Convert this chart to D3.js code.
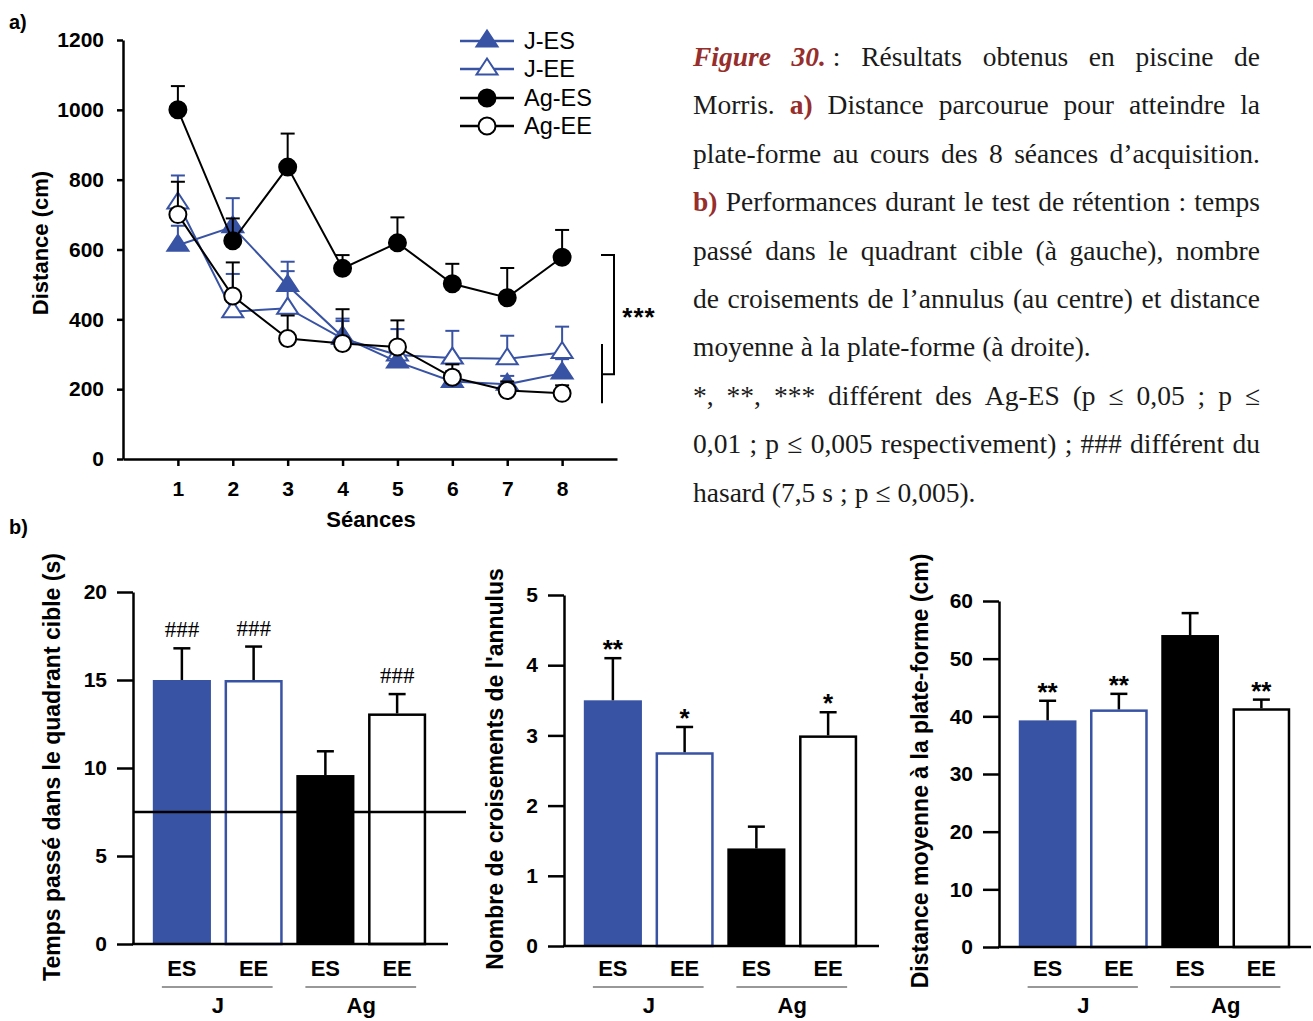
<!DOCTYPE html>
<html>
<head>
<meta charset="utf-8">
<script src="https://cdn.jsdelivr.net/npm/d3@7"></script>
<style>
  body { margin: 0; background: #fff; }
  svg text { font-family: "Liberation Sans", Arial, sans-serif; fill: #000; }
  .cap text { font-family: "Liberation Serif", "Times New Roman", serif; font-size: 27.5px; fill: #1a1a1a; }
  .cap .fig { font-weight: bold; font-style: italic; fill: #962e2c; }
  .cap .lab { font-weight: bold; fill: #962e2c; }
</style>
</head>
<body>
<svg id="chart" width="1313" height="1021"></svg>
<script>
// ---- data: a) distance over the 8 acquisition sessions (mean, SEM)
const sessions = [1, 2, 3, 4, 5, 6, 7, 8]
const jES = [612, 665, 497, 350, 278, 222, 214, 246]
const jESsem = [56, 82, 68, 45, 57, 30, 24, 40]
const jEE = [733, 422, 432, 345, 298, 289, 287, 305]
const jEEsem = [79, 108, 106, 57, 74, 78, 66, 74]
const agES = [1000, 625, 836, 546, 619, 502, 462, 578]
const agESsem = [68, 64, 96, 38, 73, 57, 85, 78]
const agEE = [700, 467, 345, 331, 321, 234, 196, 188]
const agEEsem = [94, 96, 66, 98, 76, 37, 26, 23]
const yTicksA = [0, 200, 400, 600, 800, 1000, 1200]

// ---- data: b) retention test
const groups = ['J-ES', 'J-EE', 'Ag-ES', 'Ag-EE']
const barLabels = ['ES', 'EE', 'ES', 'EE']
const ages = ['J', 'Ag']
const quadTime = [15.0, 15.0, 9.6, 13.1]
const quadSem = [1.8, 1.9, 1.35, 1.1]
const quadMarks = ['###', '###', '', '###']
const chanceLevel = 7.5
const crossings = [3.5, 2.76, 1.39, 3.0]
const crossSem = [0.6, 0.36, 0.31, 0.33]
const crossMarks = ['**', '*', '', '*']
const platDist = [39.3, 41.2, 54.1, 41.4]
const platSem = [3.4, 2.7, 3.8, 1.5]
const platMarks = ['**', '**', '', '**']

const blue = '#3953a4'
const look = {
  'J-ES': { stroke: blue, fill: blue, shape: 'tri' },
  'J-EE': { stroke: blue, fill: '#fff', shape: 'tri' },
  'Ag-ES': { stroke: '#000', fill: '#000', shape: 'circ' },
  'Ag-EE': { stroke: '#000', fill: '#fff', shape: 'circ' }
}
const svg = d3.select('#chart')
svg.append('rect').attr('width', 1313).attr('height', 1021).attr('fill', '#fff')

function styleAxis (g, size) {
  g.selectAll('path, line').attr('stroke', '#000').attr('stroke-width', 2.5)
  g.selectAll('text').attr('font-size', size).attr('font-weight', 'bold').attr('fill', '#000')
}
function marker (g, shape, cx, cy, st) {
  if (shape === 'circ') {
    g.append('circle').attr('cx', cx).attr('cy', cy).attr('r', 8.5)
      .attr('fill', st.fill).attr('stroke', st.stroke).attr('stroke-width', 2)
  } else {
    g.append('path').attr('d', 'M0,-10.5L10.5,5.5L-10.5,5.5Z')
      .attr('transform', `translate(${cx},${cy})`)
      .attr('fill', st.fill).attr('stroke', st.stroke).attr('stroke-width', 2)
  }
}

// ================= a) line chart
const x = d3.scaleLinear().domain([0, 9]).range([123, 617])
const y = d3.scaleLinear().domain([0, 1200]).range([459, 40])
const ga = svg.append('g')
ga.append('g').attr('transform', 'translate(0,459)')
  .call(d3.axisBottom(x).tickValues(sessions).tickFormat(d3.format('d')).tickSize(7).tickSizeOuter(0).tickPadding(15))
  .call(g => styleAxis(g, 21))
ga.append('g').attr('transform', 'translate(123,0)')
  .call(d3.axisLeft(y).tickValues(yTicksA).tickFormat(d3.format('d')).tickSize(6).tickSizeOuter(0).tickPadding(13))
  .call(g => styleAxis(g, 21))
ga.append('text').attr('x', 371).attr('y', 527).attr('text-anchor', 'middle')
  .attr('font-size', 22).attr('font-weight', 'bold').text('Séances')
ga.append('text').attr('transform', 'translate(48,243) rotate(-90)').attr('text-anchor', 'middle')
  .attr('font-size', 22).attr('font-weight', 'bold').text('Distance (cm)')

const series = { 'J-EE': [jEE, jEEsem], 'J-ES': [jES, jESsem], 'Ag-EE': [agEE, agEEsem], 'Ag-ES': [agES, agESsem] }
const line = d3.line().x(d => x(d.s)).y(d => y(d.v))
Object.keys(series).forEach(name => {
  const st = look[name]
  const pts = sessions.map((s, i) => ({ s, v: series[name][0][i], e: series[name][1][i] }))
  const g = ga.append('g')
  pts.forEach(p => {
    g.append('line').attr('x1', x(p.s)).attr('x2', x(p.s)).attr('y1', y(p.v)).attr('y2', y(p.v + p.e))
      .attr('stroke', st.stroke).attr('stroke-width', 2)
    g.append('line').attr('x1', x(p.s) - 7).attr('x2', x(p.s) + 7).attr('y1', y(p.v + p.e)).attr('y2', y(p.v + p.e))
      .attr('stroke', st.stroke).attr('stroke-width', 2)
  })
  g.append('path').datum(pts).attr('d', line).attr('fill', 'none').attr('stroke', st.stroke).attr('stroke-width', 2)
  pts.forEach(p => marker(g, st.shape, x(p.s), y(p.v), st))
})

// significance bracket
ga.append('path').attr('d', `M601,${y(584)}H614V${y(243)}H603`).attr('fill', 'none').attr('stroke', '#000').attr('stroke-width', 2)
ga.append('path').attr('d', `M602,${y(329)}V${y(160)}`).attr('stroke', '#000').attr('stroke-width', 2)
ga.append('text').attr('x', 639).attr('y', 326).attr('text-anchor', 'middle')
  .attr('font-size', 26).attr('font-weight', 'bold').attr('letter-spacing', 1).text('***')

// legend
const legRows = [41, 69, 98, 126]
groups.forEach((name, i) => {
  const st = look[name]
  const g = ga.append('g')
  g.append('line').attr('x1', 460).attr('x2', 514).attr('y1', legRows[i]).attr('y2', legRows[i])
    .attr('stroke', st.stroke).attr('stroke-width', 2.5)
  marker(g, st.shape, 487, legRows[i], st)
  g.append('text').attr('x', 524).attr('y', legRows[i] + 8).attr('font-size', 23.5).text(name)
})

svg.append('text').attr('x', 9).attr('y', 29).attr('font-size', 20).attr('font-weight', 'bold').text('a)')
svg.append('text').attr('x', 9).attr('y', 534).attr('font-size', 20).attr('font-weight', 'bold').text('b)')

// ================= b) bar charts
function barPanel (o) {
  const g = svg.append('g')
  const xb = d3.scaleBand().domain(groups).range([o.ax + 13, o.ax + 13 + o.len]).paddingInner(0.19).paddingOuter(0.095)
  const yb = d3.scaleLinear().domain([0, o.max]).range([o.y0, o.top])
  const bw = xb.bandwidth()
  groups.forEach((name, i) => {
    const st = look[name]
    const v = o.values[i]
    const x0 = xb(name)
    const outlined = st.fill === '#fff'
    const inset = outlined ? 1.25 : 0
    g.append('rect').attr('x', x0 + inset).attr('y', yb(v) + inset).attr('width', bw - 2 * inset).attr('height', o.y0 - yb(v) - inset)
      .attr('fill', st.fill).attr('stroke', outlined ? st.stroke : 'none').attr('stroke-width', 2.5)
    const cx = x0 + bw / 2
    const top = yb(v + o.sem[i])
    g.append('line').attr('x1', cx).attr('x2', cx).attr('y1', yb(v)).attr('y2', top).attr('stroke', '#000').attr('stroke-width', 2.5)
    g.append('line').attr('x1', cx - 8.5).attr('x2', cx + 8.5).attr('y1', top).attr('y2', top).attr('stroke', '#000').attr('stroke-width', 2.5)
    if (o.marks[i]) {
      const hash = o.marks[i][0] === '#'
      g.append('text').attr('x', cx).attr('y', hash ? top - 11 : top)
        .attr('text-anchor', 'middle')
        .attr('font-size', hash ? 23 : 26).attr('font-weight', hash ? 'normal' : 'bold')
        .style('font-family', hash ? '"Liberation Serif", serif' : null)
        .text(o.marks[i])
    }
    g.append('text').attr('x', cx).attr('y', 976).attr('text-anchor', 'middle')
      .attr('font-size', 22).attr('font-weight', 'bold').text(barLabels[i])
  })
  if (o.chance != null) {
    g.append('line').attr('x1', o.ax).attr('x2', o.ax + 333).attr('y1', yb(o.chance)).attr('y2', yb(o.chance))
      .attr('stroke', '#000').attr('stroke-width', 2.5)
  }
  ages.forEach((a, k) => {
    const c1 = xb(groups[2 * k]) + bw / 2
    const c2 = xb(groups[2 * k + 1]) + bw / 2
    g.append('line').attr('x1', c1 - 20).attr('x2', c2 + 19).attr('y1', 987).attr('y2', 987)
      .attr('stroke', '#333').attr('stroke-width', 1.2)
    g.append('text').attr('x', (c1 + c2) / 2).attr('y', 1013).attr('text-anchor', 'middle')
      .attr('font-size', 22).attr('font-weight', 'bold').text(a)
  })
  g.append('g').attr('transform', `translate(${o.ax},0)`)
    .call(d3.axisLeft(yb).tickValues(d3.range(0, o.max + 1e-9, o.step)).tickFormat(d3.format('d'))
      .tickSize(16).tickSizeOuter(0).tickPadding(10))
    .call(a => styleAxis(a, 21))
  g.append('line').attr('x1', o.ax - 1).attr('x2', o.xEnd).attr('y1', o.y0).attr('y2', o.y0)
    .attr('stroke', '#000').attr('stroke-width', 2.5)
  g.append('text').attr('transform', `translate(${o.lx},${o.ly}) rotate(-90)`).attr('text-anchor', 'middle')
    .attr('font-size', 23).attr('font-weight', 'bold').text(o.label)
}

barPanel({ ax: 133, y0: 944, top: 592, max: 20, step: 5, len: 287, xEnd: 448, values: quadTime, sem: quadSem, marks: quadMarks,
  chance: chanceLevel, lx: 60, ly: 767, label: 'Temps passé dans le quadrant cible (s)' })
barPanel({ ax: 564, y0: 946, top: 595, max: 5, step: 1, len: 287, xEnd: 879, values: crossings, sem: crossSem, marks: crossMarks,
  lx: 503, ly: 769, label: "Nombre de croisements de l'annulus" })
barPanel({ ax: 999, y0: 947, top: 601, max: 60, step: 10, len: 285, xEnd: 1311, values: platDist, sem: platSem, marks: platMarks,
  lx: 928, ly: 771, label: 'Distance moyenne à la plate-forme (cm)' })

// ================= caption (justified lines)
// § ... § = bold italic red, ¤ ... ¤ = bold red
const capLines = [
  ['§Figure§ §30.§\u00a0: Résultats obtenus en piscine de', true],
  ['Morris. ¤a)¤ Distance parcourue pour atteindre la', true],
  ['plate-forme au cours des 8 séances d’acquisition.', true],
  ['¤b)¤ Performances durant le test de rétention : temps', true],
  ['passé dans le quadrant cible (à gauche), nombre', true],
  ['de croisements de l’annulus (au centre) et distance', true],
  ['moyenne à la plate-forme (à droite).', false],
  ['*, **, *** différent des Ag-ES (p ≤ 0,05 ; p ≤', true],
  ['0,01 ; p ≤ 0,005 respectivement) ; ### différent du', true],
  ['hasard (7,5 s ; p ≤ 0,005).', false]
]
const cap = svg.append('g').attr('class', 'cap')
capLines.forEach(([str, justify], li) => {
  const yy = 66 + li * 48.4
  const nodes = str.split(' ').map(word => {
    const t = cap.append('text').attr('y', yy)
    word.split(/(§[^§]*§|¤[^¤]*¤)/).filter(s => s).forEach(s => {
      if (s[0] === '§') t.append('tspan').attr('class', 'fig').text(s.slice(1, -1))
      else if (s[0] === '¤') t.append('tspan').attr('class', 'lab').text(s.slice(1, -1))
      else t.append('tspan').text(s)
    })
    return t
  })
  const widths = nodes.map(n => n.node().getComputedTextLength())
  const gap = justify ? (1260 - 693 - d3.sum(widths)) / (nodes.length - 1) : 7
  let xx = 693
  nodes.forEach((n, i) => { n.attr('x', xx); xx += widths[i] + gap })
})
</script>
</body>
</html>
